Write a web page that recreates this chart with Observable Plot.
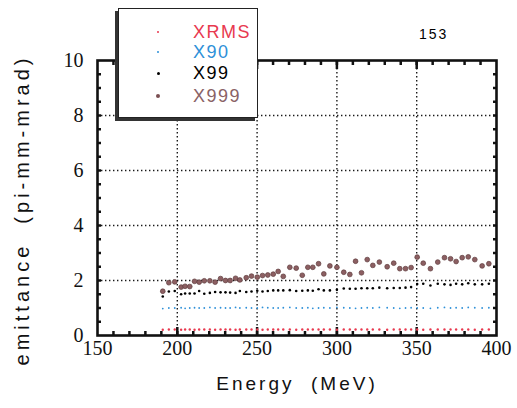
<!DOCTYPE html>
<html><head><meta charset="utf-8">
<script src="https://cdn.jsdelivr.net/npm/d3@7"></script>
<script src="https://cdn.jsdelivr.net/npm/@observablehq/plot@0.6"></script>
<style>
body{margin:0;background:#fff;}
#wrap{position:relative;width:517px;height:408px;overflow:hidden;}
#legend{position:absolute;left:118px;top:8px;width:138px;height:108px;border:1.2px solid #222;background:#fff;box-shadow:-3px 3px 0 #333;font-family:"Liberation Sans",Arial,sans-serif;font-size:18px;letter-spacing:1.5px;}
.row{position:absolute;left:0;height:20px;line-height:20px;}
.mk{position:absolute;border-radius:50%;}
.lb{position:absolute;left:74px;top:0;white-space:nowrap;}
#num{position:absolute;left:419px;top:26px;font-family:"Liberation Sans",Arial,sans-serif;font-size:14px;letter-spacing:2px;}
svg text.serifnum{font-family:"Liberation Serif","DejaVu Serif",serif !important;}
</style></head>
<body><div id="wrap"></div>
<script>
const energy = [190.9,194.7,198.4,202.4,204.9,207.8,210.8,213.7,216.9,220.4,223.7,227.1,230.2,233.1,236.5,239.2,243.2,246.5,250.1,253.4,256.7,260.1,263.2,266.4,270.5,274.5,278.3,281.8,284.9,288.5,291.8,295.6,300.0,304.3,308.1,311.7,315.4,319.0,322.5,326.6,331.5,335.6,339.4,343.0,346.5,350.3,354.1,358.6,363.2,367.4,371.2,374.7,378.5,382.3,386.4,391.0,395.2];
const x999 = [1.61,1.92,1.95,1.76,1.79,1.78,1.97,1.94,1.99,1.99,1.94,2.07,2.00,2.00,2.08,2.02,2.10,2.16,2.12,2.18,2.20,2.23,2.33,2.15,2.48,2.45,2.19,2.48,2.48,2.61,2.24,2.53,2.48,2.30,2.22,2.70,2.28,2.76,2.55,2.67,2.50,2.63,2.43,2.43,2.47,2.85,2.63,2.43,2.67,2.83,2.79,2.69,2.83,2.86,2.76,2.53,2.61];
const x99 = [1.42,1.60,1.62,1.50,1.53,1.53,1.53,1.62,1.52,1.55,1.58,1.57,1.57,1.56,1.55,1.62,1.58,1.60,1.63,1.60,1.62,1.64,1.64,1.64,1.65,1.62,1.63,1.64,1.63,1.68,1.64,1.64,1.66,1.71,1.70,1.70,1.72,1.72,1.72,1.74,1.72,1.73,1.73,1.74,1.76,1.87,1.88,1.82,1.88,1.86,1.84,1.88,1.86,1.90,1.86,1.86,1.88];
const x90 = [0.98,1.00,1.00,1.01,0.99,1.00,1.01,1.00,1.00,1.02,1.00,1.01,1.00,1.00,1.02,1.00,1.01,1.00,1.00,1.02,1.01,1.00,1.00,1.01,1.02,1.00,1.00,1.01,0.99,1.00,1.01,1.00,1.02,1.01,1.00,0.99,1.00,1.01,1.00,1.02,1.01,1.00,0.99,1.00,1.01,1.00,1.00,0.99,1.01,1.02,1.00,1.01,1.00,1.02,1.01,1.00,1.01];
const xrms = [0.21,0.22,0.22,0.21,0.22,0.22,0.21,0.22,0.22,0.22,0.21,0.22,0.22,0.22,0.21,0.22,0.22,0.22,0.22,0.21,0.22,0.22,0.22,0.22,0.22,0.21,0.22,0.22,0.22,0.22,0.22,0.22,0.21,0.22,0.22,0.22,0.22,0.22,0.22,0.22,0.21,0.22,0.22,0.22,0.22,0.22,0.21,0.22,0.22,0.22,0.22,0.22,0.22,0.22,0.21,0.22,0.22];
const seriesNames = ["XRMS","X90","X99","X999"];
const seriesColors = ["#e8394f","#2e90d8","#000000","#8a6266"];
const xMajorTicks = [150,200,250,300,350,400];
const yMajorTicks = [0,2,4,6,8,10];
const xMinorTicks = d3.range(160,400,10);
const yMinorTicks = d3.range(0.5,10,0.5);
const xGrid = [200,250,300,350];
const yGrid = [2,4,6,8];
const xLabel = "Energy  (MeV)";
const yLabel = "emittance  (pi-mm-mrad)";
const pageNumber = "153";

const rows = (vals) => energy.map((e,i)=>({e, v: vals[i]}));
const sans = "'Liberation Sans', Arial, sans-serif";

const plot = Plot.plot({
  width: 517, height: 408,
  marginLeft: 97, marginRight: 21, marginTop: 60, marginBottom: 73,
  style: {fontSize: "20px", color: "#111", background: "#fff"},
  x: {domain: [150,400]},
  y: {domain: [0,10]},
  marks: [
    Plot.gridX(xGrid, {stroke: "#000", strokeOpacity: 0.9, strokeWidth: 1.4, strokeDasharray: "1.4,2.6"}),
    Plot.gridY(yGrid, {stroke: "#000", strokeOpacity: 0.9, strokeWidth: 1.4, strokeDasharray: "1.4,2.6"}),
    Plot.axisX(xMinorTicks, {anchor: "bottom", tickSize: -4, strokeWidth: 2.5, tickFormat: () => "", label: null}),
    Plot.axisX(xMinorTicks, {anchor: "top", tickSize: -4, strokeWidth: 2.5, tickFormat: () => "", label: null}),
    Plot.axisX(xGrid, {anchor: "bottom", tickSize: -8, strokeWidth: 2.5, tickFormat: () => "", label: null}),
    Plot.axisX(xGrid, {anchor: "top", tickSize: -8, strokeWidth: 2.5, tickFormat: () => "", label: null}),
    Plot.axisY(yMinorTicks, {anchor: "left", tickSize: -4, strokeWidth: 2.5, tickFormat: () => "", label: null}),
    Plot.axisY(yMinorTicks, {anchor: "right", tickSize: -4, strokeWidth: 2.5, tickFormat: () => "", label: null}),
    Plot.axisX(xMajorTicks, {anchor: "bottom", tickSize: 0, tickPadding: 5, label: null, fontSize: 20, fill: "#111"}),
    Plot.axisY(yMajorTicks, {anchor: "left", tickSize: 0, tickPadding: 14, label: null, fontSize: 20, fill: "#111"}),
    Plot.dot(rows(xrms), {x: "e", y: "v", r: 1.2, fill: seriesColors[0]}),
    Plot.dot(rows(x90), {x: "e", y: "v", r: 0.9, fill: seriesColors[1]}),
    Plot.dot(rows(x99), {x: "e", y: "v", r: 1.3, fill: seriesColors[2]}),
    Plot.dot(rows(x999), {x: "e", y: "v", r: 2.4, fill: "#8c5f62", stroke: "#5e3c3e", strokeWidth: 0.7}),
    Plot.frame({stroke: "#111", strokeWidth: 2.6}),
    Plot.text([xLabel], {frameAnchor: "bottom", dy: 54, fontSize: 19, fill: "#111"}),
    Plot.text([yLabel], {frameAnchor: "left", textAnchor: "middle", dx: -75, dy: 12, rotate: -90, fontSize: 20, fill: "#111"})
  ]
});
const svg = d3.select(plot);
svg.selectAll("text").each(function() {
  const t = this.textContent;
  if (t === xLabel || t === yLabel) {
    d3.select(this).style("font-family", sans).style("white-space", "pre")
      .style("letter-spacing", t === xLabel ? "3px" : "4px");
  } else {
    d3.select(this).classed("serifnum", true).attr("font-family", "Liberation Serif");
  }
});
const wrap = document.getElementById("wrap");
wrap.appendChild(plot);

const legend = document.createElement("div");
legend.id = "legend";
const markSizes = [2, 2, 3, 4.5];
const rowTops = [13, 33, 54, 77];
seriesNames.forEach((name, i) => {
  const row = document.createElement("div");
  row.className = "row";
  row.style.top = rowTops[i] + "px";
  row.style.width = "136px";
  const mk = document.createElement("div");
  mk.className = "mk";
  const s = markSizes[i];
  mk.style.width = s + "px"; mk.style.height = s + "px";
  mk.style.left = (39 - s/2) + "px"; mk.style.top = (10 - s/2) + "px";
  mk.style.background = i === 3 ? "#7a4f52" : seriesColors[i];
  const lb = document.createElement("div");
  lb.className = "lb";
  lb.textContent = name;
  lb.style.color = seriesColors[i];
  row.appendChild(mk); row.appendChild(lb);
  legend.appendChild(row);
});
wrap.appendChild(legend);
const num = document.createElement("div");
num.id = "num";
num.textContent = pageNumber;
wrap.appendChild(num);
</script>
</body></html>
